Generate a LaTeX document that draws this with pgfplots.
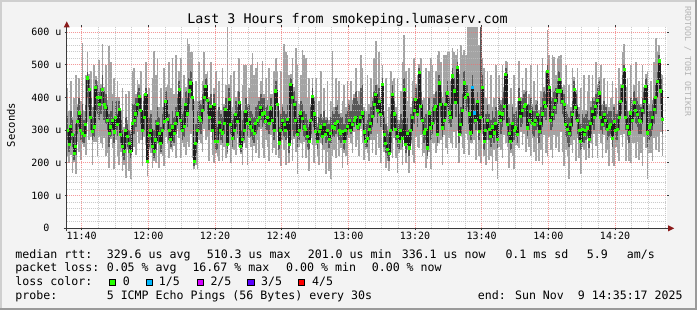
\documentclass[border=0pt]{standalone}
\usepackage{fontspec}
\setmainfont{DejaVu Sans Mono}
\setmonofont{DejaVu Sans Mono}
\usepackage{pgfplots}
\usepackage{pgfplotstable}
\pgfplotsset{compat=1.18}
\definecolor{bgc}{HTML}{F3F3F3}
\definecolor{shadeA}{HTML}{CFCFCF}
\definecolor{shadeB}{HTML}{9A9A9A}
\definecolor{smokeA}{HTML}{A4A4A4}
\definecolor{smokeB}{HTML}{585858}
\definecolor{medc}{HTML}{1E1E1E}
\definecolor{loss0}{HTML}{26FF00}
\definecolor{loss1}{HTML}{00B8FF}
\definecolor{loss2}{HTML}{D400FF}
\definecolor{loss3}{HTML}{5A00FF}
\definecolor{loss4}{HTML}{FF0000}
\definecolor{mgrid}{HTML}{F07070}
\definecolor{mingrid}{HTML}{BEBEBE}
\definecolor{axisc}{HTML}{3A3A3A}
\definecolor{arrowc}{HTML}{8B1A1A}
\definecolor{wm}{HTML}{B4B4B4}

\pgfplotstableread{
lo q1 med q3 hi
220 270 300 345 430
200 235 256 300 360
225 270 312 360 450
170 250 287 330 342
202 210 230 290 400
165 225 250 320 470
265 290 328 370 382
235 310 353 400 460
210 270 300 350 390
257 265 290 380 568
250 260 285 330 360
225 290 317 380 470
325 400 460 480 540
270 370 425 460 472
280 300 340 400 480
195 270 297 340 370
265 280 310 370 500
265 360 430 455 467
220 350 400 440 452
280 330 380 420 515
260 350 400 430 442
245 380 425 470 563
275 330 380 420 432
220 320 370 410 500
230 300 330 380 392
185 250 290 350 558
272 280 310 360 510
245 300 330 390 410
180 260 295 340 460
270 300 340 390 402
220 280 317 350 450
195 320 363 390 402
235 260 287 330 360
175 220 250 300 430
194 210 236 280 310
155 260 300 340 410
242 250 280 320 332
175 230 260 300 420
150 215 236 290 302
240 280 320 380 481
250 290 330 380 490
225 310 350 400 412
295 340 380 420 455
260 360 404 430 442
270 320 360 400 480
190 270 300 350 362
280 300 340 390 410
255 370 409 430 510
160 200 205 260 350
242 250 285 340 430
230 270 300 350 362
185 230 250 300 460
207 215 236 300 542
200 240 270 330 470
260 280 320 370 520
185 260 290 340 370
227 235 260 310 430
220 270 300 350 370
190 300 328 370 490
280 340 389 420 432
260 300 333 380 440
215 270 300 350 510
242 250 271 320 430
235 280 310 360 522
252 260 290 340 410
215 290 320 370 530
305 320 350 400 412
275 380 425 450 480
215 300 330 380 520
262 270 300 350 400
250 280 312 360 470
225 340 380 420 432
265 310 350 400 583
250 380 420 460 563
290 400 445 480 540
215 360 400 440 541
182 190 205 260 390
195 230 260 320 450
180 270 300 360 390
270 300 340 390 510
260 290 330 380 392
235 320 360 410 450
305 360 400 440 540
270 390 435 460 472
280 350 390 430 480
205 300 340 390 402
295 330 374 410 510
225 270 300 350 362
200 340 379 410 430
232 240 266 320 480
220 240 266 310 360
205 290 323 370 450
255 270 300 350 362
205 260 292 340 490
250 290 320 370 382
215 330 363 400 440
227 235 256 330 640
255 350 394 430 442
200 290 317 360 470
242 250 276 330 370
240 270 300 350 480
225 310 348 390 402
275 290 327 370 420
250 340 384 420 520
227 235 251 300 360
195 250 271 330 440
262 270 300 360 501
245 320 358 400 500
195 280 320 370 382
275 300 333 380 430
250 280 310 360 500
205 270 300 350 537
252 260 290 340 470
230 290 320 370 491
270 300 329 380 510
215 310 340 390 402
305 330 369 410 450
245 310 350 400 512
215 320 353 400 412
270 300 328 370 460
250 300 340 380 392
205 290 320 360 490
285 330 368 400 412
230 300 330 370 410
245 270 300 340 480
225 380 420 450 522
295 340 379 420 480
215 240 261 310 360
190 270 300 350 480
270 300 330 370 382
240 280 317 360 563
195 270 300 350 540
275 300 333 380 532
200 230 256 320 470
270 380 440 460 472
205 300 400 440 520
272 280 379 420 432
235 290 330 390 552
165 250 287 340 500
250 270 300 350 380
260 320 353 390 470
215 300 337 380 547
265 280 310 360 530
215 270 302 350 522
240 250 280 330 400
175 240 266 310 460
275 290 330 370 382
255 360 404 430 460
200 310 350 390 402
255 270 297 340 460
220 240 266 310 322
195 270 297 340 390
260 280 310 350 480
200 255 280 330 342
240 290 317 360 430
165 260 287 330 342
235 270 300 340 450
174 245 271 320 332
150 260 290 340 390
220 280 310 360 542
240 280 307 350 370
215 290 320 370 460
280 300 328 380 392
220 270 300 350 450
245 260 290 340 352
185 270 297 340 390
232 240 266 320 440
220 270 300 350 370
195 285 312 360 450
276 300 330 380 392
260 290 300 360 450
230 300 317 380 392
295 310 330 400 412
250 320 340 420 490
270 300 310 390 402
220 300 317 380 420
305 320 340 430 532
261 330 353 440 490
210 280 295 360 372
242 250 266 320 360
230 250 276 330 470
205 270 302 350 380
270 290 320 370 460
230 310 343 390 402
270 340 380 420 520
225 370 409 440 573
290 320 360 400 440
245 350 389 430 540
200 310 348 390 402
300 400 440 460 501
235 250 287 340 360
185 230 260 320 460
207 215 241 300 312
174 205 230 290 370
230 260 300 350 480
215 370 409 440 452
275 310 350 390 460
215 270 302 350 370
170 250 282 330 460
230 240 266 320 332
240 270 300 350 420
195 250 276 330 510
295 380 425 460 593
200 230 256 320 480
240 260 290 340 390
170 220 246 300 490
262 270 300 350 370
225 300 340 390 450
200 320 360 400 520
280 350 394 430 442
250 310 348 390 470
245 420 476 490 502
285 330 374 420 521
220 290 330 380 392
230 260 292 340 400
185 270 302 350 490
212 220 246 300 360
235 310 353 400 480
180 270 307 360 522
260 290 320 370 500
260 320 363 400 412
230 330 374 420 480
252 260 287 350 530
260 400 445 470 542
270 340 380 420 510
195 280 307 360 401
285 300 330 380 530
245 340 379 420 530
226 370 414 450 540
275 320 353 400 540
260 310 338 380 450
245 420 466 490 552
295 380 420 460 540
245 340 384 430 530
300 440 491 510 550
200 260 287 350 471
282 290 317 370 560
245 320 360 410 530
226 400 445 480 545
290 360 400 440 530
270 370 409 440 640
225 320 350 400 640
262 270 292 350 640
260 400 430 470 640
270 320 353 400 640
210 300 330 380 640
300 350 389 420 640
220 270 297 350 560
200 300 340 640 640
290 390 430 470 520
220 240 266 320 490
195 270 300 350 400
270 300 330 380 481
210 270 302 350 380
220 250 280 330 470
175 280 310 360 372
240 260 292 340 400
205 290 320 370 500
150 245 271 320 360
250 320 353 400 470
240 290 330 380 392
215 310 350 400 500
285 330 374 420 432
260 420 470 490 512
250 280 317 370 510
185 260 290 340 380
232 240 266 320 430
220 290 322 370 382
180 270 300 350 470
255 280 307 360 372
252 260 287 340 390
245 350 394 430 511
295 310 343 390 402
255 320 360 400 460
290 340 374 410 422
235 340 379 420 490
272 280 307 360 372
250 300 330 380 410
220 320 358 400 500
276 290 320 370 382
235 280 317 360 450
205 300 330 380 392
275 310 348 390 500
205 260 297 350 362
240 290 320 370 420
195 310 350 400 520
285 340 384 420 432
230 330 374 410 480
220 430 481 500 608
280 390 430 460 530
240 300 330 390 402
215 310 348 400 532
285 330 370 420 525
245 350 390 430 470
280 380 420 450 522
235 410 455 480 528
295 380 420 450 530
235 350 389 420 432
190 340 379 410 440
240 280 317 360 500
220 260 302 350 380
150 250 290 340 440
255 280 317 360 372
230 310 348 390 490
270 380 425 450 462
205 330 369 410 422
275 290 330 380 490
215 270 300 350 370
165 240 266 320 430
250 270 302 350 362
240 260 287 340 470
210 270 300 350 362
272 280 307 360 420
215 245 271 330 470
260 290 320 370 390
215 320 358 400 470
290 300 340 390 402
251 340 374 410 510
215 350 390 430 442
290 380 414 450 462
260 300 340 380 500
215 290 317 360 380
285 310 348 390 460
230 300 330 370 382
240 270 302 350 450
190 280 310 360 372
275 290 317 360 400
200 250 276 330 450
190 300 328 370 382
250 270 300 350 430
230 270 302 350 362
205 300 340 390 490
285 350 389 430 442
250 390 435 470 540
290 440 486 500 563
205 300 338 390 431
270 280 310 360 460
205 260 292 340 360
200 320 353 400 500
260 300 330 380 392
260 340 384 420 440
215 320 360 400 510
265 310 348 390 402
210 290 330 380 450
230 290 328 370 382
190 320 360 400 500
280 350 389 420 432
245 390 435 460 472
150 250 292 340 480
230 270 310 360 380
230 280 317 360 450
205 300 338 380 392
275 320 363 400 510
240 350 400 440 583
280 400 450 480 540
235 460 512 530 560
295 380 420 460 472
220 290 333 380 470
}\smoke

\begin{document}
\begin{tikzpicture}[x=1pt,y=1pt]
\useasboundingbox (0,0) rectangle (697,310);
\fill[bgc] (0,0) rectangle (697,310);
\fill[shadeA] (0,308) rectangle (697,310);
\fill[shadeA] (0,0) rectangle (2,310);
\fill[shadeB] (0,0) rectangle (697,2);
\fill[shadeB] (695,0) rectangle (697,310);
\begin{axis}[
  at={(66.7pt,81.7pt)}, anchor=south west,
  scale only axis, width=600pt, height=200.9pt,
  xmin=35.5, xmax=215.5, ymin=0, ymax=615,
  axis background/.style={fill=white},
  axis line style={draw=none},
  axis on top,
  clip=true,
  xtick={40,60,80,100,120,140,160,180,200},
  xticklabels={\texttt{11:40},\texttt{12:00},\texttt{12:20},\texttt{12:40},\texttt{13:00},\texttt{13:20},\texttt{13:40},\texttt{14:00},\texttt{14:20}},
  minor xtick={45,50,55,65,70,75,85,90,95,105,110,115,125,130,135,145,150,155,165,170,175,185,190,195,205,210,215},
  ytick={0,100,200,300,400,500,600},
  yticklabels={\texttt{0\hphantom{\ u}},\texttt{100 u},\texttt{200 u},\texttt{300 u},\texttt{400 u},\texttt{500 u},\texttt{600 u}},
  minor ytick={20,40,60,80,120,140,160,180,220,240,260,280,320,340,360,380,420,440,460,480,520,540,560,580},
  grid=both,
  major grid style={draw=mgrid, dash pattern=on 1pt off 1pt, line width=1pt, opacity=0.7},
  minor grid style={draw=mingrid, dash pattern=on 1pt off 1pt, line width=1pt, opacity=0.8},
  major tick length=2pt, minor tick length=0pt, tick align=outside,
  tick style={draw=axisc, line width=1pt},
  xticklabel style={font=\fontsize{10}{12}\selectfont, inner sep=0pt, anchor=north, yshift=-2pt},
  yticklabel style={font=\fontsize{10}{12}\selectfont, inner sep=0pt, anchor=east, xshift=-3pt},
]
\addplot[draw=none, mark=none, forget plot,
  error bars/.cd, y dir=both, y explicit, error mark=none,
  error bar style={draw=smokeA, line width=1.75pt}]
  table[x expr=35.75+0.5*\coordindex, y=med,
        y error plus expr=\thisrow{hi}-\thisrow{med},
        y error minus expr=\thisrow{med}-\thisrow{lo}] {\smoke};
\addplot[draw=none, mark=none, forget plot,
  error bars/.cd, y dir=both, y explicit, error mark=none,
  error bar style={draw=smokeB, line width=1.75pt}]
  table[x expr=35.75+0.5*\coordindex, y=med,
        y error plus expr=\thisrow{q3}-\thisrow{med},
        y error minus expr=\thisrow{med}-\thisrow{q1}] {\smoke};
\addplot[const plot mark mid, draw=medc, line width=1.6pt, mark=none, forget plot]
  table[x expr=35.75+0.5*\coordindex, y=med] {\smoke};
\addplot[only marks, mark=square*, mark size=1.1pt, mark options={draw=loss0, fill=loss0, line width=0pt}, forget plot]
  table[x expr=35.75+0.5*\coordindex, y=med] {\smoke};
\addplot[only marks, mark=square*, mark size=1.1pt, mark options={draw=loss1, fill=loss1, line width=0pt}, forget plot]
  coordinates {(157.25,430) (157.75,353)};
\end{axis}
% axes and arrows
\draw[axisc, line width=1pt] (63.5,81.7) -- (668.5,81.7);
\draw[axisc, line width=1pt] (66.7,78.7) -- (66.7,284.5);
\fill[arrowc] (674.2,81.7) -- (668.2,84.7) -- (668.2,78.7) -- cycle;
\fill[arrowc] (66.7,288.6) -- (63.7,282.6) -- (69.7,282.6) -- cycle;
% title, labels
\node[anchor=base, inner sep=0pt, font=\fontsize{13.3}{16}\selectfont] at (347.6,286) {Last 3 Hours from smokeping.lumaserv.com};
\node[anchor=base, rotate=90, inner sep=0pt, font=\fontsize{10.5}{12}\selectfont] at (15,185) {Seconds};
\node[anchor=center, rotate=-90, inner sep=0pt, text=wm, font=\fontsize{8.3}{10}\selectfont] at (687.8,248.5) {RRDTOOL / TOBI OETIKER};
% legend
\begin{scope}[every node/.style={anchor=base west, inner sep=0pt, font=\fontsize{11.6}{13}\selectfont}]
\node at (15.3,51.7) {median rtt:};
\node at (106.6,51.7) {329.6 us avg};
\node at (206.6,51.7) {510.3 us max};
\node at (307.6,51.7) {201.0 us min};
\node at (401.6,51.7) {336.1 us now};
\node at (505.3,51.7) {0.1 ms sd};
\node at (586.6,51.7) {5.9};
\node at (626.6,51.7) {am/s};
\node at (15.3,38) {packet loss:};
\node at (106.6,38) {0.05 \% avg};
\node at (192.3,38) {16.67 \% max};
\node at (286.0,38) {0.00 \% min};
\node at (371.6,38) {0.00 \% now};
\node at (15.3,24) {loss color:};
\node at (122.6,24) {0};
\node at (158.6,24) {1/5};
\node at (210.3,24) {2/5};
\node at (261.0,24) {3/5};
\node at (312.0,24) {4/5};
\node at (15.3,10.3) {probe:};
\node at (106.6,10.3) {5 ICMP Echo Pings (56 Bytes) every 30s};
\node at (477.6,10.3) {end: Sun Nov~~9 14:35:17 2025};
\end{scope}
\filldraw[fill=loss0, draw=black, line width=0.8pt] (108.9,24.4) rectangle (115.3,30.8);
\filldraw[fill=loss1, draw=black, line width=0.8pt] (145.9,24.4) rectangle (152.3,30.8);
\filldraw[fill=loss2, draw=black, line width=0.8pt] (196.9,24.4) rectangle (203.3,30.8);
\filldraw[fill=loss3, draw=black, line width=0.8pt] (247.5,24.4) rectangle (253.9,30.8);
\filldraw[fill=loss4, draw=black, line width=0.8pt] (298.2,24.4) rectangle (304.6,30.8);
\end{tikzpicture}
\end{document}
